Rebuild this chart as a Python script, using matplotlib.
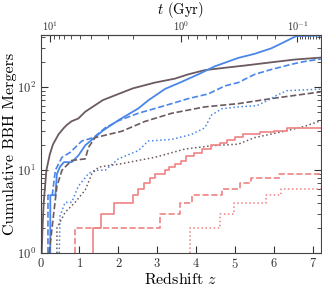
import numpy as np
import matplotlib
matplotlib.use("Agg")
import matplotlib.pyplot as plt
from matplotlib.ticker import FixedLocator, LogFormatterSciNotation, NullFormatter

plt.rcParams.update({
    "font.family": "cmr10", "mathtext.fontset": "cm",
    "axes.formatter.use_mathtext": True,
})

# cumulative merger counts vs redshift
z_dark = [0.03, 0.05, 0.08, 0.15, 0.24, 0.32, 0.46, 0.59, 0.67, 0.8, 0.97, 1.15, 1.6, 2.0, 2.37, 2.94, 3.45, 3.79, 4.22, 4.74, 5.25, 5.93, 6.53, 7.2]
n_dark = [1, 2, 4, 10, 15.7, 20.5, 27, 32, 35, 39, 42, 50.8, 70, 83, 97, 114, 127, 143, 161, 172, 183, 200, 216, 228]
z_blue = [0.25, 0.25, 0.38, 0.42, 0.5, 0.6, 0.8, 0.97, 1.15, 1.4, 1.6, 2.0, 2.51, 2.77, 3.2, 3.62, 4.05, 4.48, 5.08, 5.5, 5.93, 6.36, 6.57, 7.2]
n_blue = [1, 5, 5, 9, 11, 12.5, 12.5, 15, 20, 25, 30, 40, 55.5, 69.6, 95.6, 116, 143, 179, 226, 253, 295, 370, 415, 420]
z_blue_d = [0.19, 0.19, 0.3, 0.38, 0.55, 0.76, 1.06, 1.36, 1.66, 2.0, 2.51, 2.94, 3.37, 3.79, 4.31, 4.74, 5.08, 5.5, 5.93, 6.44, 6.79, 7.2]
n_blue_d = [1, 5, 5, 10, 14.3, 16.4, 22.5, 24.7, 32.4, 39.5, 48.6, 55.5, 63.5, 72.9, 83.2, 104, 114, 143, 164, 189, 205, 219]
z_dark_d = [0.22, 0.33, 0.42, 0.55, 0.8, 1.15, 1.23, 1.4, 2.09, 2.68, 3.37, 4.22, 5.08, 5.93, 7.2]
n_dark_d = [1, 2.8, 6.4, 10, 13.1, 13.7, 18.8, 24.7, 29.5, 38.7, 48.6, 58, 63.5, 73, 88]
z_blue_o = [0.48, 0.5, 0.63, 0.8, 0.97, 1.23, 1.4, 1.66, 2.0, 2.51, 2.77, 3.37, 3.88, 4.22, 4.39, 4.65, 5.08, 5.56, 5.9, 6.07, 6.33, 7.2]
n_blue_o = [1, 2.8, 4.1, 4.1, 6.4, 9.1, 10, 10, 13.7, 17.2, 22.5, 23.5, 27, 32.4, 46, 55, 58, 60, 72, 80, 91, 95]
z_dark_o = [0.42, 0.42, 0.63, 0.89, 1.15, 1.32, 1.49, 2.09, 2.51, 2.94, 3.71, 4.39, 5.08, 5.5, 6.27, 6.79, 7.2]
n_dark_o = [1, 2, 3.1, 4.1, 5.8, 9.1, 10.9, 12, 13.1, 14.3, 18, 19.7, 20.6, 24.7, 29.5, 33.8, 39.5]
z_red = [1.36, 1.36, 1.55, 1.9, 2.38, 2.5, 2.65, 2.8, 2.95, 3.2, 3.3, 3.45, 3.6, 3.75, 3.95, 4.15, 4.37, 4.6, 4.8, 5.0, 5.2, 5.65, 6.0, 6.33, 7.2]
n_red = [1, 2, 3, 4, 5, 6, 7, 8, 9, 10, 11, 12, 13, 15, 16, 18, 20, 21, 23, 25, 27, 29, 30, 32, 32]
z_red_d = [0.88, 0.88, 3.08, 3.58, 3.9, 4.67, 5.13, 5.4, 6.12, 7.2]
n_red_d = [1, 2, 3, 4, 5, 6, 7, 8, 9, 9]
z_red_o = [3.85, 3.85, 4.6, 4.97, 5.79, 6.19, 7.2]
n_red_o = [1, 2, 3, 4, 5, 6, 6]

C_DARK, C_BLUE, C_RED = "#6b5a5f", "#4a86e8", "#f08383"
Z_MAX, Z_END = 7.2, 7.3
H0_INV, OM = 977.8 / 70.0, 0.3  # Gyr, flat LCDM
OL = 1 - OM
_A = 2 * H0_INV / (3 * np.sqrt(OL))
_B = np.sqrt(OL / OM)


def age(z):
    return _A * np.arcsinh(_B * (1 + np.asarray(z, float)) ** -1.5)


def z2t(z):
    z = np.clip(np.asarray(z, float), -0.5, None)
    return np.maximum(age(z) - age(Z_END), 1e-4)


def t2z(t):
    a = np.clip(np.asarray(t, float), 1e-4, 1e3) + age(Z_END)
    return (np.sinh(a / _A) / _B) ** (-2 / 3) - 1


def t_ticks(tmin, tmax):
    decs = 10.0 ** np.arange(np.floor(np.log10(tmin)), np.ceil(np.log10(tmax)) + 1)
    major = decs[(decs >= tmin) & (decs <= tmax)]
    minor = np.outer(decs, np.arange(2, 10)).ravel()
    minor = minor[(minor >= tmin) & (minor <= tmax)]
    return major, minor


fig = plt.figure(figsize=(3.22, 2.86), dpi=100)
ax = fig.add_axes([0.126, 0.115, 0.87, 0.762])

ax.plot(z_dark, n_dark, color=C_DARK, lw=1.3)
ax.plot(z_blue, n_blue, color=C_BLUE, lw=1.3)
ax.plot(z_blue_d, n_blue_d, color=C_BLUE, lw=1.2, ls="--")
ax.plot(z_dark_d, n_dark_d, color=C_DARK, lw=1.2, ls="--")
ax.plot(z_blue_o, n_blue_o, color=C_BLUE, lw=1.1, ls=":")
ax.plot(z_dark_o, n_dark_o, color=C_DARK, lw=1.1, ls=":")
ax.step(z_red, n_red, where="post", color=C_RED, lw=1.2)
ax.step(z_red_d, n_red_d, where="post", color=C_RED, lw=1.2, ls="--")
ax.step(z_red_o, n_red_o, where="post", color=C_RED, lw=1.1, ls=":")

ax.set_yscale("log")
ax.set_xlim(0, Z_MAX)
ax.set_ylim(1, 425)
ax.set_xticks(range(0, 8))
ax.set_xlabel("Redshift $z$", fontsize=11.5, labelpad=0)
ax.set_ylabel("Cumulative BBH Mergers", fontsize=11.5, labelpad=0)
ax.tick_params(which="both", direction="in", right=True, labelsize=9, colors="#333333")
ax.tick_params(which="major", length=5)
ax.tick_params(which="minor", length=3)
ax.tick_params(axis="x", which="both", top=False, pad=3)
for s in ax.spines.values():
    s.set_color("#444444")

sec = ax.secondary_xaxis("top", functions=(z2t, t2z))
t_major, t_minor = t_ticks(float(z2t(Z_MAX)), float(z2t(0.0)))
sec.xaxis.set_major_locator(FixedLocator(t_major))
sec.xaxis.set_minor_locator(FixedLocator(t_minor))
sec.xaxis.set_major_formatter(LogFormatterSciNotation())
sec.xaxis.set_minor_formatter(NullFormatter())
sec.tick_params(which="both", direction="in", labelsize=7.5, colors="#333333", pad=1.5)
sec.tick_params(which="major", length=5)
sec.tick_params(which="minor", length=3)
sec.spines["top"].set_color("#444444")
sec.set_xlabel("$t$ (Gyr)", fontsize=10.5, labelpad=4)

fig.savefig("out.png", dpi=100)
